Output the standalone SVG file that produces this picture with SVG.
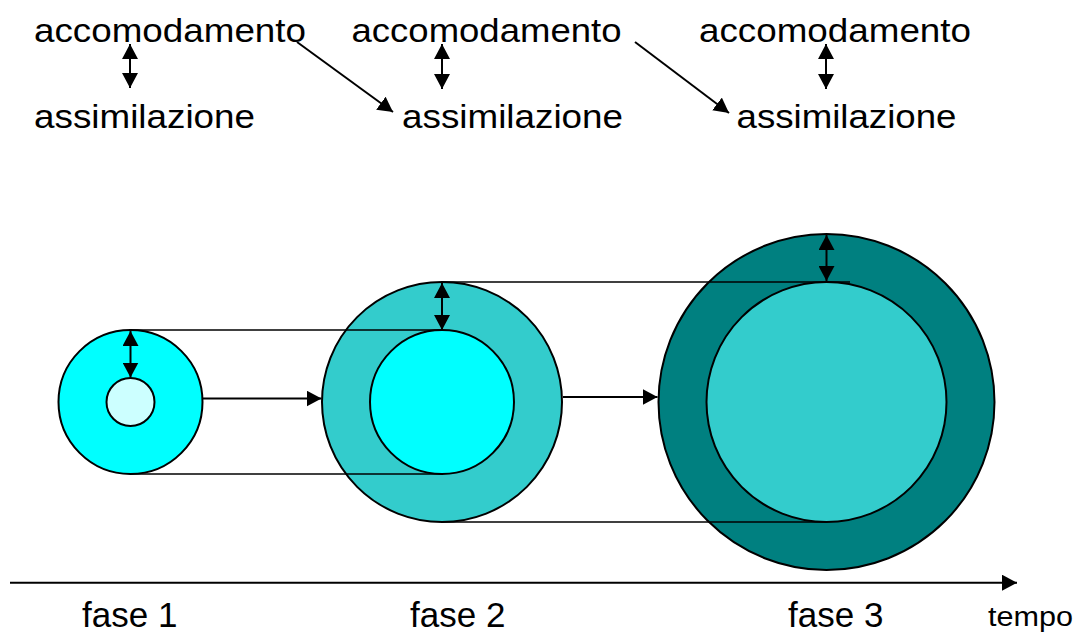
<svg xmlns="http://www.w3.org/2000/svg" width="1079" height="634" viewBox="0 0 1079 634">
<style>
.lbl{font-family:"Liberation Sans",Arial,sans-serif;font-size:33px;fill:#000}
.fase{font-family:"Liberation Sans",Arial,sans-serif;font-size:35px;fill:#000}
.tempo{font-family:"Liberation Sans",Arial,sans-serif;font-size:27px;fill:#000}
.ring{stroke:#000;stroke-width:2}
.arr{stroke:#000;stroke-width:2;fill:none}
.guide{stroke:#000;stroke-width:1.6;fill:none}
</style>
<defs>
<marker id="ah" viewBox="0 0 15 16" markerUnits="userSpaceOnUse" markerWidth="15" markerHeight="16" refX="15" refY="8" orient="auto-start-reverse">
<path d="M0,0 L15,8 L0,16 z" fill="#000"/>
</marker>
</defs>
<rect width="1079" height="634" fill="#fff"/>
<g id="labels-top">
<text class="lbl" x="34" y="42" textLength="272" lengthAdjust="spacingAndGlyphs">accomodamento</text>
<text class="lbl" x="351.5" y="42" textLength="270" lengthAdjust="spacingAndGlyphs">accomodamento</text>
<text class="lbl" x="699" y="42" textLength="272" lengthAdjust="spacingAndGlyphs">accomodamento</text>
<text class="lbl" x="34" y="128" textLength="221" lengthAdjust="spacingAndGlyphs">assimilazione</text>
<text class="lbl" x="402" y="128" textLength="221" lengthAdjust="spacingAndGlyphs">assimilazione</text>
<text class="lbl" x="736.5" y="128" textLength="220" lengthAdjust="spacingAndGlyphs">assimilazione</text>
</g>
<g id="fase1">
<circle class="ring" cx="130.5" cy="402" r="72" fill="#00FFFF"/>
<circle class="ring" cx="130.5" cy="402" r="24" fill="#CCFFFF"/>
</g>
<g id="fase2">
<circle class="ring" cx="442" cy="402" r="120" fill="#33CCCC"/>
<circle class="ring" cx="442" cy="402" r="72" fill="#00FFFF"/>
</g>
<g id="fase3">
<circle class="ring" cx="826.5" cy="402" r="168" fill="#008080"/>
<circle class="ring" cx="826.5" cy="402" r="120" fill="#33CCCC"/>
</g>
<g id="connectors">
<line class="arr" x1="130" y1="44" x2="130" y2="88" marker-start="url(#ah)" marker-end="url(#ah)"/>
<line class="arr" x1="442" y1="44" x2="442" y2="89" marker-start="url(#ah)" marker-end="url(#ah)"/>
<line class="arr" x1="826" y1="44" x2="826" y2="89" marker-start="url(#ah)" marker-end="url(#ah)"/>
<line class="arr" x1="297" y1="42" x2="393" y2="112" marker-end="url(#ah)"/>
<line class="arr" x1="635" y1="42" x2="729" y2="113" marker-end="url(#ah)"/>
<line class="guide" x1="130" y1="330" x2="442" y2="330"/>
<line class="guide" x1="130" y1="474" x2="442" y2="474"/>
<line class="guide" x1="442" y1="282" x2="850" y2="282"/>
<line class="guide" x1="442" y1="522" x2="827" y2="522"/>
<line class="arr" x1="130.5" y1="331" x2="130.5" y2="377.5" marker-start="url(#ah)" marker-end="url(#ah)"/>
<line class="arr" x1="442" y1="283" x2="442" y2="330" marker-start="url(#ah)" marker-end="url(#ah)"/>
<line class="arr" x1="826.5" y1="235" x2="826.5" y2="281" marker-start="url(#ah)" marker-end="url(#ah)"/>
<line class="arr" x1="203" y1="398.5" x2="321.5" y2="398.5" marker-end="url(#ah)"/>
<line class="arr" x1="563" y1="397" x2="657.5" y2="397" marker-end="url(#ah)"/>
<line class="arr" x1="10" y1="582.7" x2="1017" y2="582.7" marker-end="url(#ah)"/>
</g>
<g id="labels-bottom">
<text class="fase" x="82" y="627">fase 1</text>
<text class="fase" x="410" y="627">fase 2</text>
<text class="fase" x="788" y="627">fase 3</text>
<text class="tempo" x="988" y="626" textLength="85" lengthAdjust="spacingAndGlyphs">tempo</text>
</g>
</svg>
